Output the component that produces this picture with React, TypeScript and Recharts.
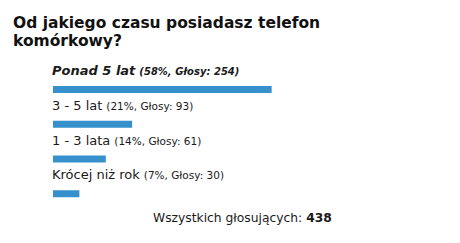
import React from "react";
import { BarChart, Bar, XAxis, YAxis, LabelList } from "recharts";

const answers = ["Ponad 5 lat", "3 - 5 lat", "1 - 3 lata", "Krócej niż rok"];
const percents = [58, 21, 14, 7];
const votes = [254, 93, 61, 30];
const totalVotes = 438;

const data = answers.map((name, i) => ({
  name,
  percent: percents[i],
  votes: votes[i],
}));

const FONT = "'DejaVu Sans', Verdana, sans-serif";

// text above each bar: answer + (percent, votes); the leading answer is in italics
const AnswerLabel = (props: any) => {
  const { x, y, index } = props;
  const top = index === 0;
  return (
    <text
      x={x - 1}
      y={y - 11}
      fontFamily={FONT}
      fill="#1a1a1a"
      fontStyle={top ? "italic" : "normal"}
    >
      <tspan fontSize={13} fontWeight={top ? 600 : 400}>
        {answers[index]}
      </tspan>
      <tspan fontSize={top ? 10 : 10.5} fontWeight={top ? 700 : 400} dx={4}>
        ({percents[index]}%, Głosy: {votes[index]})
      </tspan>
    </text>
  );
};

export default function App() {
  return (
    <div
      style={{
        position: "absolute",
        left: 0,
        top: 0,
        width: 460,
        height: 243,
        background: "#fff",
        fontFamily: FONT,
      }}
    >
      <div
        style={{
          position: "absolute",
          left: 13,
          top: 14,
          fontSize: 15.5,
          fontWeight: "bold",
          lineHeight: "18px",
          color: "#111",
          width: 420,
        }}
      >
        Od jakiego czasu posiadasz telefon
        <br />
        komórkowy?
      </div>
      <BarChart
        width={460}
        height={243}
        data={data}
        layout="vertical"
        margin={{ top: 72, right: 30, bottom: 32, left: 53 }}
        style={{ position: "absolute", left: 0, top: 0 }}
      >
        <XAxis type="number" domain={[0, 100]} hide />
        <YAxis type="category" dataKey="name" hide width={0} />
        <Bar
          dataKey="percent"
          fill="#3590cc"
          barSize={7}
          isAnimationActive={false}
        >
          <LabelList dataKey="name" content={<AnswerLabel />} />
        </Bar>
      </BarChart>
      <div
        style={{
          position: "absolute",
          left: 153,
          top: 211,
          fontSize: 12.3,
          color: "#1a1a1a",
        }}
      >
        Wszystkich głosujących: <b>{totalVotes}</b>
      </div>
    </div>
  );
}
